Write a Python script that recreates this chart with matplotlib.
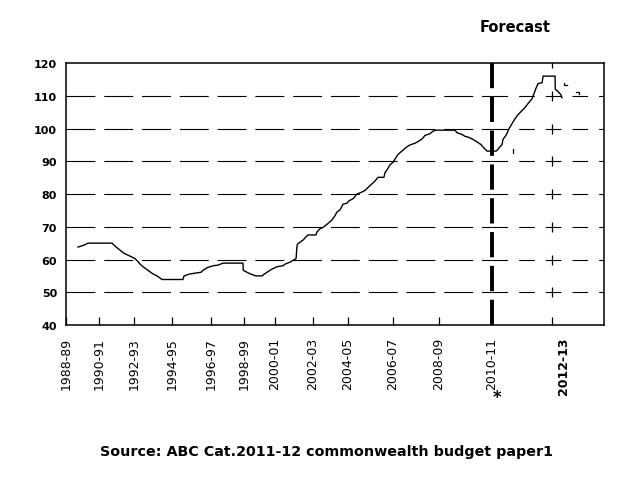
import matplotlib.pyplot as plt
import matplotlib.transforms as mtransforms

# series (x in fractional years on the chart's own scale)
years = [1989.43, 1989.74, 1989.94, 1991.16, 1991.37, 1991.52, 1991.77, 1992.13,
         1992.33, 1992.48, 1992.59, 1992.74, 1992.99, 1993.25, 1993.45, 1993.71,
         1994.77, 1994.83, 1995.13, 1995.69, 1995.79, 1996.00, 1996.30, 1996.56,
         1996.81, 1997.83, 1997.84, 1998.13, 1998.34, 1998.49, 1998.80, 1998.85,
         1999.05, 1999.25, 1999.56, 1999.86, 1999.97, 2000.22, 2000.53, 2000.57,
         2000.60, 2000.73, 2000.88, 2001.03, 2001.14, 2001.54, 2001.59, 2001.75,
         2001.95, 2002.15, 2002.36, 2002.51, 2002.61, 2002.77, 2002.92, 2003.12,
         2003.22, 2003.43, 2003.63, 2003.88, 2004.04, 2004.19, 2004.39, 2004.55,
         2004.70, 2005.00, 2005.06, 2005.16, 2005.31, 2005.46, 2005.61, 2005.72,
         2005.97, 2006.12, 2006.33, 2006.58, 2006.73, 2006.94, 2007.09, 2007.34,
         2007.50, 2007.65, 2008.62, 2008.72, 2008.97, 2009.13, 2009.28, 2009.53,
         2009.74, 2009.94, 2010.04, 2010.25, 2010.70, 2010.75, 2010.86, 2011.01,
         2011.06, 2011.21, 2011.37, 2011.52, 2011.67, 2011.82, 2012.03, 2012.18,
         2012.33, 2012.54, 2012.64, 2012.74, 2012.84, 2013.05, 2013.10, 2013.71,
         2013.72, 2013.86, 2014.01, 2014.06]
values = [63.8, 64.4, 65.0, 65.0, 63.8, 63.1, 61.9, 60.9,
          60.3, 59.4, 58.6, 57.8, 56.7, 55.6, 55.0, 53.9,
          53.9, 55.0, 55.6, 56.1, 56.7, 57.5, 58.1, 58.3,
          58.9, 58.9, 56.7, 55.8, 55.3, 55.0, 55.0, 55.3,
          56.1, 56.9, 57.8, 58.1, 58.6, 59.2, 60.3, 63.8,
          64.7, 65.3, 65.9, 66.9, 67.5, 67.5, 68.4, 69.4,
          70.0, 71.0, 72.1, 73.4, 74.5, 75.2, 76.9, 77.2,
          77.9, 78.6, 80.0, 80.6, 81.1, 82.0, 83.1, 84.0,
          85.1, 85.1, 86.6, 87.4, 88.9, 89.7, 91.1, 92.1,
          93.4, 94.2, 95.0, 95.5, 96.0, 96.8, 97.9, 98.4,
          99.2, 99.5, 99.5, 98.7, 98.2, 97.6, 97.4, 96.7,
          95.9, 95.1, 94.4, 93.1, 93.1, 93.3, 94.1, 95.1,
          96.7, 97.9, 100.0, 101.5, 103.0, 104.2, 105.5, 106.4,
          107.6, 109.1, 110.7, 112.3, 113.7, 114.0, 116.0, 116.0,
          112.0, 111.3, 110.3, 109.4]

# small stray fragments near the end of the series
stray_x = [[2014.18, 2014.18, 2014.33], [2014.77, 2014.93, 2014.93], [2011.57, 2011.57]]
stray_y = [[114.0, 113.3, 113.3], [111.3, 111.3, 110.6], [93.6, 92.6]]

tick_pos = [1988.82, 1990.50, 1992.28, 1994.21, 1996.20, 1997.88, 1999.46,
            2001.39, 2003.17, 2005.46, 2007.80, 2010.50, 2013.55]
tick_labels = ['1988-89', '1990-91', '1992-93', '1994-95', '1996-97', '1998-99',
               '2000-01', '2002-03', '2004-05', '2006-07', '2008-09', '2010-11',
               '2012-13']
grid_vals = [50, 60, 70, 80, 90, 100, 110]
y_ticks = [40, 50, 60, 70, 80, 90, 100, 110, 120]
forecast_start = 2010.50
cross_at = 2013.55

fig = plt.figure(figsize=(6.37, 4.81), dpi=100)
ax = fig.add_axes([0.1036, 0.3222, 0.8446, 0.5447])
ax.set_xlim(1988.82, 2016.20)
ax.set_ylim(40, 120)

# dashed gridlines: longer dashes before the forecast line, shorter after
for g in grid_vals:
    ax.plot([1988.82, forecast_start], [g, g], color='black', lw=0.8,
            dashes=(26, 8), zorder=1)
    ax.plot([forecast_start, 2016.20], [g, g], color='black', lw=0.8,
            dashes=(14, 10), zorder=1)
ax.plot([cross_at] * (len(grid_vals) + 1), grid_vals + [120], ls='none',
        marker='|', ms=7, mew=0.9, color='black', zorder=2)

ax.plot(years, values, color='black', lw=1.0, zorder=3)
for sx, sy in zip(stray_x, stray_y):
    ax.plot(sx, sy, color='black', lw=0.9, zorder=3)

ax.axvline(forecast_start, color='black', lw=2.8, dashes=(6.5, 2.2), zorder=4)

for s in ax.spines.values():
    s.set_linewidth(1.1)

ax.set_yticks(y_ticks)
ax.set_yticklabels([str(v) for v in y_ticks], fontsize=8, fontweight='bold',
                   family='DejaVu Sans')
ax.tick_params(axis='y', length=0, pad=6.5)

ax.set_xticks(tick_pos)
ax.set_xticklabels(tick_labels, rotation=90, fontsize=9, family='DejaVu Sans')
ax.tick_params(axis='x', direction='in', length=6, width=0.9, pad=8.5)
last = ax.get_xticklabels()[-1]
last.set_fontweight('bold')
last.set_fontsize(9)
last.set_transform(last.get_transform() +
                   mtransforms.ScaledTranslation(8 / 72, 0, fig.dpi_scale_trans))

fig.text(515 / 637, 1 - 27 / 481, 'Forecast', ha='center', va='center',
         fontsize=10.5, fontweight='bold')
fig.text(497 / 637, 1 - 398 / 481, '*', ha='center', va='center',
         fontsize=12, fontweight='bold')
fig.text(327 / 637, 1 - 452 / 481, 'Source: ABC Cat.2011-12 commonwealth budget paper1',
         ha='center', va='center', fontsize=10.3, fontweight='bold')

fig.savefig('out.png', dpi=100)
